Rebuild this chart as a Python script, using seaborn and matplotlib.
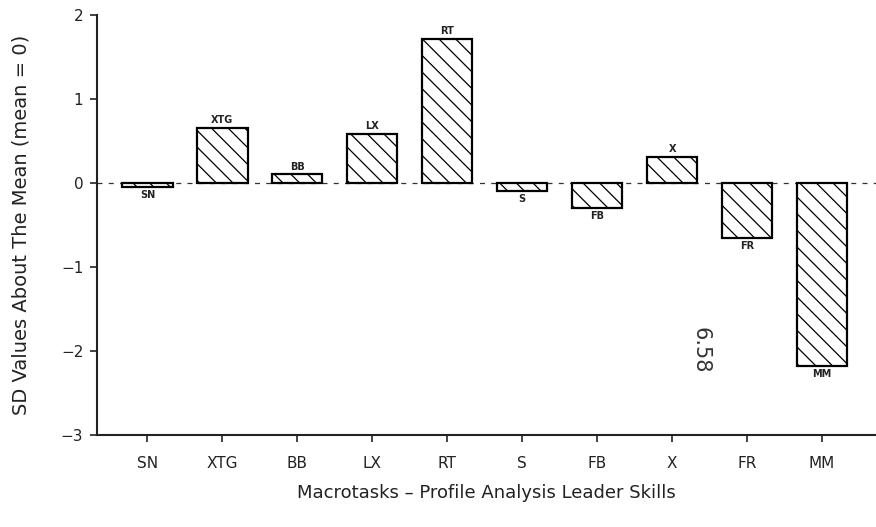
import matplotlib
matplotlib.use("Agg")
import matplotlib.pyplot as plt
import seaborn as sns
import pandas as pd

categories = ["SN", "XTG", "BB", "LX", "RT", "S", "FB", "X", "FR", "MM"]
sd_values = [-0.05, 0.65, 0.10, 0.58, 1.71, -0.10, -0.30, 0.31, -0.66, -2.18]
y_ticks = [-3, -2, -1, 0, 1, 2]

df = pd.DataFrame({"task": categories, "sd": sd_values})

sns.set_theme(style="ticks")
plt.rcParams["font.family"] = ["DejaVu Sans"]
plt.rcParams["hatch.linewidth"] = 0.9

fig = plt.figure(figsize=(8.76, 5.27), dpi=100)
ax = fig.add_axes([0.111, 0.175, 0.889, 0.797])

sns.barplot(data=df, x="task", y="sd", order=categories, color="white",
            edgecolor="black", linewidth=1.6, width=0.67, ax=ax,
            saturation=1)
for p in ax.patches:
    p.set_hatch("\\\\")
    p.set_facecolor("white")
    p.set_edgecolor("black")

ax.bar_label(ax.containers[0], labels=categories, padding=2,
             fontsize=7, fontweight="bold", color="#222222")

ax.axhline(0, color="#333333", linewidth=0.9, linestyle=(0, (4, 5)), zorder=0)

ax.set_ylim(-3, 2)
ax.set_xlim(-0.67, 9.72)
ax.set_yticks(y_ticks)
ax.set_yticklabels([str(t).replace("-", "\u2212") for t in y_ticks])

ax.tick_params(axis="both", direction="out", length=5, width=1.2,
               colors="#222222", labelsize=11)
ax.tick_params(axis="x", pad=10)
ax.tick_params(axis="y", pad=5)

for side in ["top", "right"]:
    ax.spines[side].set_visible(False)
for side in ["left", "bottom"]:
    ax.spines[side].set_linewidth(1.5)
    ax.spines[side].set_color("#222222")

ax.set_xlabel("Macrotasks \u2013 Profile Analysis Leader Skills",
              fontsize=13, color="#222222", labelpad=10)
ax.set_ylabel("SD Values About The Mean (mean = 0)",
              fontsize=14, color="#222222", labelpad=22)

fig.text(0.80, 0.335, "6.58", rotation=270, fontsize=15,
         color="#333333", ha="center", va="center")

fig.savefig("out.png", dpi=100, facecolor="white")
